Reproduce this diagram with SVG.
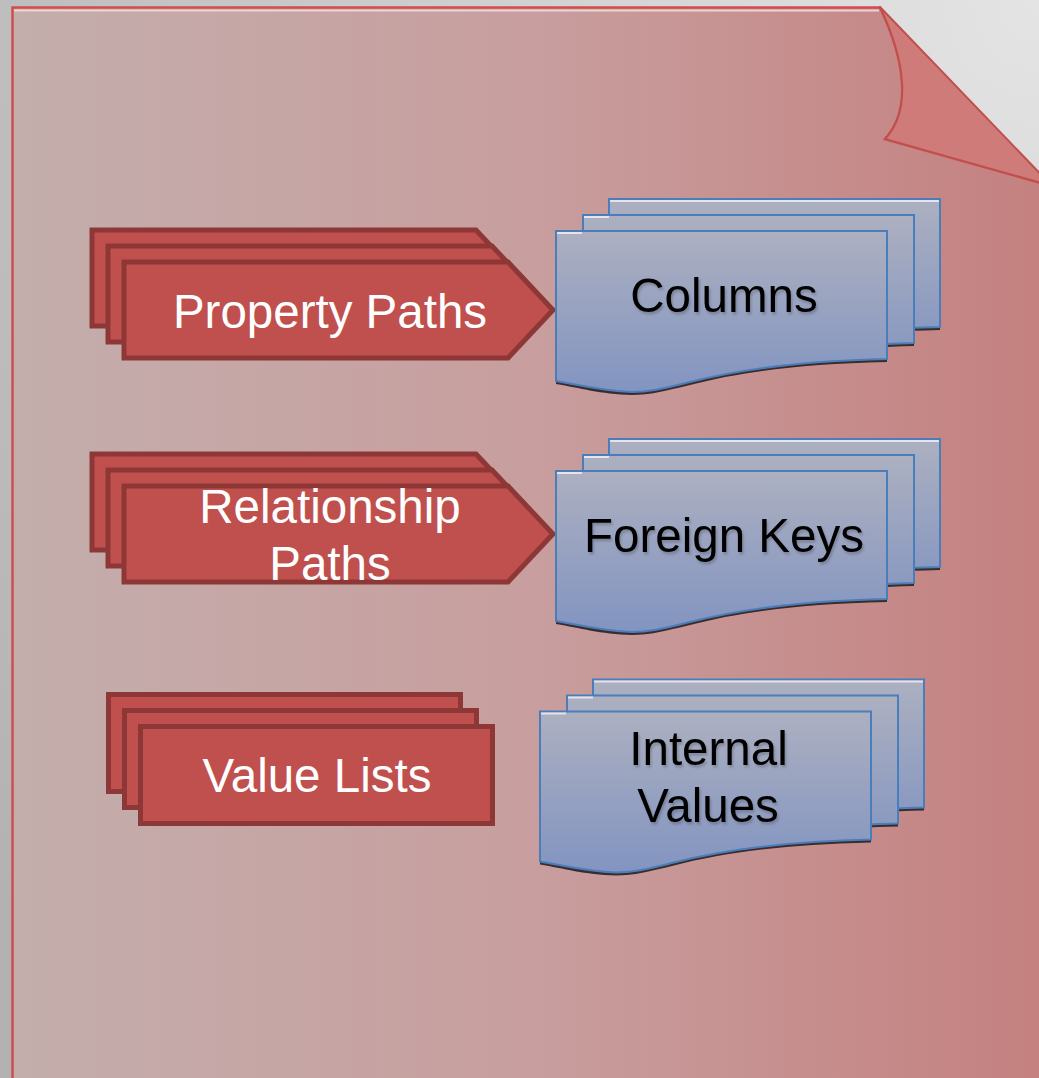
<svg xmlns="http://www.w3.org/2000/svg" xmlns:xlink="http://www.w3.org/1999/xlink" width="1039" height="1078" viewBox="0 0 1039 1078">
<style>
.red{fill:#c0504d;stroke:#8d3837;stroke-width:5;stroke-linejoin:miter}
.doc{fill:url(#blueGrad);stroke:#4a7ebb;stroke-width:2}
.docShadow{fill:#3a2c2c}
.hl{stroke:#e6e2ea;stroke-width:2}
.wt{font-family:"Liberation Sans",Arial,sans-serif;font-size:47.5px;fill:#ffffff;text-anchor:middle}
.bt{font-family:"Liberation Sans",Arial,sans-serif;font-size:47.5px;fill:#000000;text-anchor:middle;filter:url(#ts)}
</style>
<defs>
<radialGradient id="bgGrad" cx="1" cy="0" r="1.3">
<stop offset="0" stop-color="#e4e4e4"/>
<stop offset="1" stop-color="#b2b2b2"/>
</radialGradient>
<linearGradient id="pageGrad" x1="0" y1="0" x2="1" y2="0">
<stop offset="0" stop-color="#c3aeac"/>
<stop offset="0.5" stop-color="#c89e9e"/>
<stop offset="1" stop-color="#c4807f"/>
</linearGradient>
<linearGradient id="blueGrad" x1="0" y1="0" x2="0" y2="1">
<stop offset="0" stop-color="#acb0c0"/>
<stop offset="1" stop-color="#8294c1"/>
</linearGradient>
<filter id="ts" x="-10%" y="-30%" width="120%" height="160%">
<feDropShadow dx="1.5" dy="2.5" stdDeviation="1.2" flood-color="#000" flood-opacity="0.2"/>
</filter>
<polygon id="chev" points="124,262 508,262 553,310 508,358 124,358"/>
<path id="docShape" d="M556,231 H887 V359 C800,361 740,369 690,382 C665,388 650,392 632,392 C600,391 580,385 556,381 Z"/>
</defs>

<rect x="0" y="0" width="1039" height="1078" fill="url(#bgGrad)"/>

<g id="page">
<path d="M12.5,7.5 H880 C905,60 912,110 885,139 L1052,186 V1090 H12.5 Z" fill="url(#pageGrad)" stroke="#cf4f4e" stroke-width="2.5"/>
<line x1="14" y1="10.5" x2="879" y2="10.5" stroke="#f0d2d2" stroke-width="2"/>
<path d="M880,7 L1052,186 L885,139 C912,110 905,60 880,7 Z" fill="#ce7b7a" stroke="#c0504d" stroke-width="2" stroke-linejoin="round"/>
</g>

<g id="connectors"></g>

<g id="node-property-paths">
<use xlink:href="#chev" class="red" transform="translate(-32,-32)"/>
<use xlink:href="#chev" class="red" transform="translate(-16,-16)"/>
<use xlink:href="#chev" class="red"/>
<text class="wt" x="330" y="328">Property Paths</text>
</g>

<g id="node-columns">
<g transform="translate(53,-32)">
<use xlink:href="#docShape" class="docShadow" transform="translate(0,3)"/>
<use xlink:href="#docShape" class="doc"/>
<line class="hl" x1="557" y1="233" x2="886" y2="233"/>
</g>
<g transform="translate(27,-16)">
<use xlink:href="#docShape" class="docShadow" transform="translate(0,3)"/>
<use xlink:href="#docShape" class="doc"/>
<line class="hl" x1="557" y1="233" x2="582" y2="233"/>
</g>
<use xlink:href="#docShape" class="docShadow" transform="translate(0,3)"/>
<use xlink:href="#docShape" class="doc"/>
<line class="hl" x1="557" y1="233" x2="582" y2="233"/>
<text class="bt" x="724" y="312">Columns</text>
</g>

<g id="node-relationship-paths" transform="translate(0,224)">
<use xlink:href="#chev" class="red" transform="translate(-32,-32)"/>
<use xlink:href="#chev" class="red" transform="translate(-16,-16)"/>
<use xlink:href="#chev" class="red"/>
<text class="wt" x="330" y="299">Relationship</text>
<text class="wt" x="330" y="356">Paths</text>
</g>

<g id="node-foreign-keys" transform="translate(0,240)">
<g transform="translate(53,-32)">
<use xlink:href="#docShape" class="docShadow" transform="translate(0,3)"/>
<use xlink:href="#docShape" class="doc"/>
<line class="hl" x1="557" y1="233" x2="886" y2="233"/>
</g>
<g transform="translate(27,-16)">
<use xlink:href="#docShape" class="docShadow" transform="translate(0,3)"/>
<use xlink:href="#docShape" class="doc"/>
<line class="hl" x1="557" y1="233" x2="582" y2="233"/>
</g>
<use xlink:href="#docShape" class="docShadow" transform="translate(0,3)"/>
<use xlink:href="#docShape" class="doc"/>
<line class="hl" x1="557" y1="233" x2="582" y2="233"/>
<text class="bt" x="724" y="312">Foreign Keys</text>
</g>

<g id="node-value-lists">
<rect class="red" x="108.5" y="694.5" width="352" height="97"/>
<rect class="red" x="124.5" y="710.5" width="352" height="97"/>
<rect class="red" x="140.5" y="726.5" width="352" height="97"/>
<text class="wt" x="317" y="792">Value Lists</text>
</g>

<g id="node-internal-values" transform="translate(-16,480.5)">
<g transform="translate(53,-32)">
<use xlink:href="#docShape" class="docShadow" transform="translate(0,3)"/>
<use xlink:href="#docShape" class="doc"/>
<line class="hl" x1="557" y1="233" x2="886" y2="233"/>
</g>
<g transform="translate(27,-16)">
<use xlink:href="#docShape" class="docShadow" transform="translate(0,3)"/>
<use xlink:href="#docShape" class="doc"/>
<line class="hl" x1="557" y1="233" x2="582" y2="233"/>
</g>
<use xlink:href="#docShape" class="docShadow" transform="translate(0,3)"/>
<use xlink:href="#docShape" class="doc"/>
<line class="hl" x1="557" y1="233" x2="582" y2="233"/>
<text class="bt" x="724.5" y="284.5">Internal</text>
<text class="bt" x="724" y="341.5">Values</text>
</g>
</svg>
